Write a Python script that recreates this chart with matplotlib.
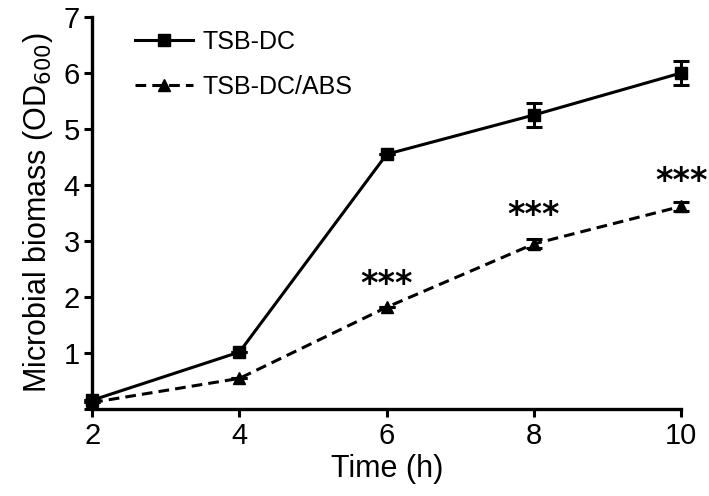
import matplotlib
matplotlib.use("Agg")
import matplotlib.pyplot as plt

time_h = [2, 4, 6, 8, 10]
tsb_dc = [0.16, 1.02, 4.55, 5.25, 6.00]
tsb_dc_err = [0.0, 0.0, 0.0, 0.21, 0.21]
tsb_abs = [0.12, 0.55, 1.82, 2.95, 3.62]
tsb_abs_err = [0.0, 0.0, 0.0, 0.08, 0.08]
star_x = [6, 8, 10]
star_y = [2.23, 3.45, 4.07]
xticks = [2, 4, 6, 8, 10]
yticks = [0, 1, 2, 3, 4, 5, 6, 7]
ytick_labels = ["", "1", "2", "3", "4", "5", "6", "7"]

plt.rcParams['font.family'] = ['Liberation Sans', 'DejaVu Sans']

fig = plt.figure(figsize=(7.09, 4.96), dpi=100)
ax = fig.add_axes([0.130, 0.175, 0.831, 0.791])

dash = (0, (3.5, 2))
ax.plot(time_h, tsb_dc, color='black', lw=2.2, marker='s', markersize=8,
        label='TSB-DC', clip_on=False, zorder=3)
ax.errorbar(time_h, tsb_dc, yerr=tsb_dc_err, fmt='none', ecolor='black',
            capsize=6, capthick=2.2, elinewidth=2.2, clip_on=False, zorder=3)
ax.plot(time_h, tsb_abs, color='black', lw=2.2, marker='^', markersize=8,
        linestyle=dash, label='TSB-DC/ABS', clip_on=False, zorder=3)
ax.errorbar(time_h, tsb_abs, yerr=tsb_abs_err, fmt='none', ecolor='black',
            capsize=6, capthick=2.2, elinewidth=2.2, clip_on=False, zorder=3)

for x, y in zip(star_x, star_y):
    ax.text(x, y, '***', ha='center', va='center', fontsize=24,
            fontweight='bold', family=['DejaVu Sans'])

ax.set_xlim(2, 10)
ax.set_ylim(0, 7)
ax.set_xticks(xticks)
ax.set_yticks(yticks)
ax.set_yticklabels(ytick_labels)
ax.tick_params(axis='both', direction='out', length=6, width=2.2, labelsize=21, pad=3)
for s in ['top', 'right']:
    ax.spines[s].set_visible(False)
for s in ['left', 'bottom']:
    ax.spines[s].set_linewidth(2.4)

ax.set_xlabel('Time (h)', fontsize=22, labelpad=3)
ax.set_ylabel('Microbial biomass (OD$_{600}$)', fontsize=22, labelpad=6)

leg = ax.legend(loc='upper left', bbox_to_anchor=(0.035, 1.025), frameon=False, fontsize=18,
                handlelength=2.3, labelspacing=0.85, handletextpad=0.4)

fig.savefig('out.png', dpi=100)
